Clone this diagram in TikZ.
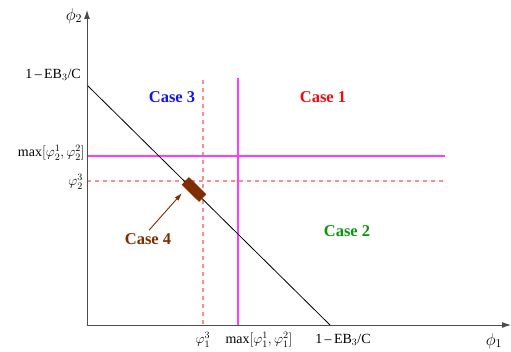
\documentclass[tikz,border=0pt]{standalone}
\usepackage{fontspec}
\setmainfont{Liberation Serif}
\usepackage{fix-cm}
\usetikzlibrary{arrows.meta}
\definecolor{magentaL}{RGB}{255,60,255}
\definecolor{caseblue}{RGB}{20,20,240}
\definecolor{casered}{RGB}{240,10,10}
\definecolor{casegreen}{RGB}{10,150,10}
\definecolor{casebrown}{RGB}{125,45,0}
\tikzset{
  axis/.style={draw=black!70, line width=0.9pt, -{Latex[length=9pt,width=6pt]}},
  lab/.style={font=\fontsize{14}{16}\selectfont, inner sep=1pt},
  axlab/.style={font=\fontsize{17}{19}\selectfont, inner sep=1pt},
  casel/.style={font=\fontsize{16.5}{18}\selectfont\bfseries, inner sep=1pt},
  solidm/.style={magentaL, line width=1.1pt},
  dashp/.style={red!45, line width=1.1pt, dash pattern=on 4pt off 4pt},
}
\begin{document}
\begin{tikzpicture}[x=1pt,y=-1pt]
\useasboundingbox (0,0) rectangle (511,352);
% axes
\coordinate (O) at (87,325);
\coordinate (Ytop) at (87,10);
\coordinate (Xend) at (511,325);
% guide lines
\coordinate (d1t) at (203,80);
\coordinate (d1b) at (203,325);
\coordinate (m1t) at (238,78);
\coordinate (m1b) at (238,325);
\coordinate (m2l) at (87,156);
\coordinate (m2r) at (445,156);
\coordinate (d2l) at (87,181);
\coordinate (d2r) at (445,181);
\draw[dashp] (d1t) -- (d1b);
\draw[dashp] (d2l) -- (d2r);
\draw[solidm] (m1t) -- (m1b);
\draw[solidm] (m2l) -- (m2r);
% diagonal
\coordinate (A) at (87,85);
\coordinate (B) at (330,325);
\draw[black, line width=0.8pt] (A) -- (B);
\draw[axis] (O) -- (Ytop);
\draw[axis] (O) -- (Xend);
% Case 4 box
\node[fill=casebrown, draw=casebrown, minimum width=24pt, minimum height=10pt, inner sep=0pt, rotate=-44.6] (box) at (194,189.5) {};
% labels
\node[axlab] (phi2) at (74,16) {$\phi_2$};
\node[axlab] (phi1) at (494,341) {$\phi_1$};
\node[lab, anchor=east] (ya) at (82,75) {1\,–\,EB$_3$/C};
\node[lab, anchor=east] (ym) at (86,153) {max$[\varphi_2^1, \varphi_2^2]$};
\node[lab, anchor=east] (y3) at (84,182) {$\varphi_2^3$};
\node[lab] (x3) at (203,340) {$\varphi_1^3$};
\node[lab] (xm) at (259,340) {max$[\varphi_1^1, \varphi_1^2]$};
\node[lab] (xa) at (343,340) {1\,–\,EB$_3$/C};
\node[casel, text=caseblue] (c3) at (172,97) {Case 3};
\node[casel, text=casered] (c1) at (323,97) {Case 1};
\node[casel, text=casegreen] (c2) at (347,231) {Case 2};
\node[casel, text=casebrown] (c4) at (148,239) {Case 4};
\draw[casebrown, line width=0.9pt, -{Latex[length=8pt,width=5pt]}] (c4.north) ++(1,-2) coordinate (c4s) -- (182,193) coordinate (c4t);
\end{tikzpicture}
\end{document}
